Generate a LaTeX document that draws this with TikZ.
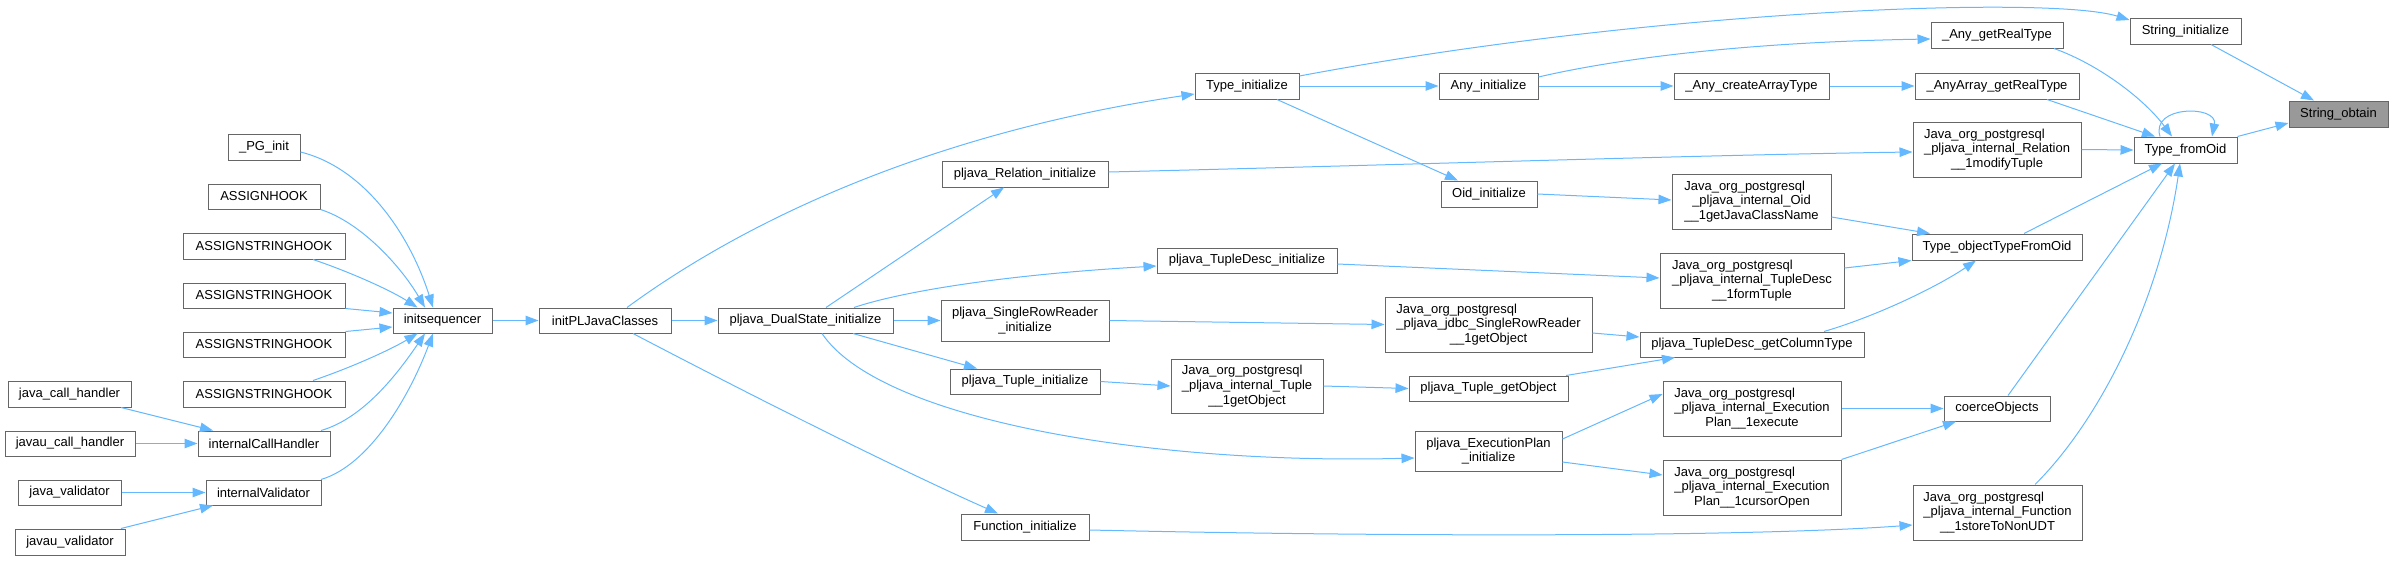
\documentclass[tikz,border=0pt]{standalone}
\usepackage{fontspec}
\setmainfont{Liberation Sans}
\usetikzlibrary{arrows.meta}
\definecolor{edgeblue}{HTML}{63B8FF}
\definecolor{boxgray}{HTML}{666666}
\definecolor{rootfill}{HTML}{999999}
\newlength\tlw
\newcommand\threel[3]{\settowidth\tlw{#2}\setbox0\hbox{#3}\ifdim\wd0>\tlw \tlw=\wd0\fi\setbox0\hbox{#1}\ifdim\wd0>\tlw \tlw=\wd0\fi\makebox[\tlw][l]{#1}\\#2\\#3}
\tikzset{
  box/.style={draw=boxgray, fill=white, line width=1pt, inner sep=0pt, align=center,
    font=\fontsize{13}{14.7}\selectfont},
  rootbox/.style={box, fill=rootfill},
  edge/.style={draw=edgeblue, line width=1pt, -{Triangle[length=13pt,width=9.5pt,fill=edgeblue]}}
}
\begin{document}
\begin{tikzpicture}[x=1pt,y=-1pt]
\useasboundingbox (0,0) rectangle (2393,560);
% column 1
\node[box, minimum width=123pt, minimum height=26pt] (jch) at (69.5,394) {java\_call\_handler};
\node[box, minimum width=130pt, minimum height=25pt] (jauch) at (70,443.5) {javau\_call\_handler};
\node[box, minimum width=103pt, minimum height=25pt] (jv) at (69.5,492.5) {java\_validator};
\node[box, minimum width=110pt, minimum height=26pt] (jauv) at (70,542) {javau\_validator};
% column 2
\node[box, minimum width=72pt, minimum height=26pt] (pg) at (264,147) {\_PG\_init};
\node[box, minimum width=112pt, minimum height=25pt] (ah) at (264,196.5) {ASSIGNHOOK};
\node[box, minimum width=162pt, minimum height=26pt] (ash1) at (264,246) {ASSIGNSTRINGHOOK};
\node[box, minimum width=162pt, minimum height=25pt] (ash2) at (264,295.5) {ASSIGNSTRINGHOOK};
\node[box, minimum width=162pt, minimum height=25pt] (ash3) at (264,344.5) {ASSIGNSTRINGHOOK};
\node[box, minimum width=162pt, minimum height=26pt] (ash4) at (264,394) {ASSIGNSTRINGHOOK};
\node[box, minimum width=132pt, minimum height=25pt] (ich) at (264,443.5) {internalCallHandler};
\node[box, minimum width=115pt, minimum height=25pt] (iv) at (263.5,492.5) {internalValidator};
% columns 3-5
\node[box, minimum width=99pt, minimum height=25pt] (is) at (442.5,320.5) {initsequencer};
\node[box, minimum width=132pt, minimum height=25pt] (ipl) at (605,320.5) {initPLJavaClasses};
\node[box, minimum width=175pt, minimum height=25pt] (dual) at (805.5,320.5) {pljava\_DualState\_initialize};
% column 6
\node[box, minimum width=166pt, minimum height=26pt] (relinit) at (1025,174) {pljava\_Relation\_initialize};
\node[box, minimum width=168pt, minimum height=41pt] (srrinit) at (1025,320.5) {pljava\_SingleRowReader\\\_initialize};
\node[box, minimum width=150pt, minimum height=25pt] (tupinit) at (1025,381.5) {pljava\_Tuple\_initialize};
\node[box, minimum width=128pt, minimum height=26pt] (finit) at (1025,527) {Function\_initialize};
% column 7
\node[box, minimum width=104pt, minimum height=26pt] (tinit) at (1247,86) {Type\_initialize};
\node[box, minimum width=180pt, minimum height=25pt] (tdinit) at (1247,260.5) {pljava\_TupleDesc\_initialize};
\node[box, minimum width=152pt, minimum height=54pt] (jtuple) at (1247,386) {\threel{Java\_org\_postgresql}{\_pljava\_internal\_Tuple}{\_\_1getObject}};
% column 8
\node[box, minimum width=99pt, minimum height=26pt] (anyinit) at (1488.5,86) {Any\_initialize};
\node[box, minimum width=96pt, minimum height=26pt] (oidinit) at (1489,194) {Oid\_initialize};
\node[box, minimum width=207pt, minimum height=55pt] (jsrr) at (1488.5,324.5) {\threel{Java\_org\_postgresql}{\_pljava\_jdbc\_SingleRowReader}{\_\_1getObject}};
\node[box, minimum width=159pt, minimum height=25pt] (tupget) at (1488.5,388.5) {pljava\_Tuple\_getObject};
\node[box, minimum width=147pt, minimum height=40pt] (epinit) at (1488.5,451) {pljava\_ExecutionPlan\\\_initialize};
% column 9
\node[box, minimum width=155pt, minimum height=26pt] (anycreate) at (1751.5,86) {\_Any\_createArrayType};
\node[box, minimum width=159pt, minimum height=55pt] (joid) at (1751.5,201.5) {\threel{Java\_org\_postgresql}{\_pljava\_internal\_Oid}{\_\_1getJavaClassName}};
\node[box, minimum width=184pt, minimum height=55pt] (jform) at (1752,280.5) {\threel{Java\_org\_postgresql}{\_pljava\_internal\_TupleDesc}{\_\_1formTuple}};
\node[box, minimum width=224pt, minimum height=25pt] (coltype) at (1752,344.5) {pljava\_TupleDesc\_getColumnType};
\node[box, minimum width=178pt, minimum height=55pt] (jexec) at (1752,408.5) {\threel{Java\_org\_postgresql}{\_pljava\_internal\_Execution}{Plan\_\_1execute}};
\node[box, minimum width=178pt, minimum height=55pt] (jcursor) at (1752,487.5) {\threel{Java\_org\_postgresql}{\_pljava\_internal\_Execution}{Plan\_\_1cursorOpen}};
% column 10
\node[box, minimum width=132pt, minimum height=26pt] (anyget) at (1997,35) {\_Any\_getRealType};
\node[box, minimum width=164pt, minimum height=26pt] (anyarr) at (1997,86) {\_AnyArray\_getRealType};
\node[box, minimum width=168pt, minimum height=55pt] (jrel) at (1997,149.5) {\threel{Java\_org\_postgresql}{\_pljava\_internal\_Relation}{\_\_1modifyTuple}};
\node[box, minimum width=170pt, minimum height=26pt] (tobj) at (1997,247) {Type\_objectTypeFromOid};
\node[box, minimum width=106pt, minimum height=25pt] (coerce) at (1997,408.5) {coerceObjects};
\node[box, minimum width=169pt, minimum height=55pt] (jstore) at (1997.5,512.5) {\threel{Java\_org\_postgresql}{\_pljava\_internal\_Function}{\_\_1storeToNonUDT}};
% column 11-12
\node[box, minimum width=111pt, minimum height=26pt] (sinit) at (2185.5,31) {String\_initialize};
\node[box, minimum width=103pt, minimum height=26pt] (tfo) at (2185.5,150) {Type\_fromOid};
\node[rootbox, minimum width=99pt, minimum height=26pt] (sobt) at (2338.5,114) {String\_obtain};

% edges into initsequencer
\draw[edge] ([yshift=-5pt]pg.east) .. controls (365,168) and (410,235) .. ([xshift=-9.5pt]is.north);
\draw[edge] (ah.south east) .. controls (360,222) and (400,265) .. ([xshift=-17.5pt]is.north);
\draw[edge] ([xshift=49pt]ash1.south) .. controls (350,272) and (390,290) .. ([xshift=-25pt]is.north);
\draw[edge] (ash2.south east) -- ([yshift=7.5pt]is.west);
\draw[edge] (ash3.north east) -- ([yshift=-6.5pt]is.west);
\draw[edge] ([xshift=49pt]ash4.north) .. controls (350,368) and (390,350) .. ([xshift=-25pt]is.south);
\draw[edge] ([xshift=57pt]ich.north) .. controls (365,418) and (400,370) .. ([xshift=-17.5pt]is.south);
\draw[edge] ([xshift=57.5pt]iv.north) .. controls (370,465) and (410,395) .. ([xshift=-9.5pt]is.south);
\draw[edge] ([xshift=51.5pt]jch.south) -- ([xshift=-51pt]ich.north);
\draw[edge] (jauch.east) -- (ich.west);
\draw[edge] (jv.east) -- (iv.west);
\draw[edge] ([xshift=51pt]jauv.north) -- ([xshift=-50.5pt]iv.south);
% main chain
\draw[edge] (is.east) -- (ipl.west);
\draw[edge] (ipl.east) -- (dual.west);
\draw[edge] ([xshift=22pt]ipl.north) .. controls (760,210) and (950,130) .. ([yshift=-8pt]tinit.west);
\draw[edge] ([xshift=28pt]ipl.south) .. controls (760,400) and (900,470) .. ([xshift=-27pt]finit.north);
\draw[edge] ([xshift=20.5pt]dual.north) -- ([xshift=-21pt]relinit.south);
\draw[edge] ([xshift=48.5pt]dual.north) .. controls (900,292) and (1000,275) .. ([yshift=-5.5pt]tdinit.west);
\draw[edge] (dual.east) -- (srrinit.west);
\draw[edge] ([xshift=47.5pt]dual.south) -- ([xshift=-48pt]tupinit.north);
\draw[edge] ([xshift=16.5pt]dual.south) .. controls (880,420) and (1150,465) .. ([yshift=-7pt]epinit.west);
\draw[edge] (srrinit.east) -- (jsrr.west);
\draw[edge] (tupinit.east) -- (jtuple.west);
\draw[edge] ([yshift=-3pt]finit.east) .. controls (1400,537) and (1750,537) .. ([yshift=-12.5pt]jstore.west);
% Type_initialize
\draw[edge] ([yshift=10pt]tinit.east) .. controls (1650,10) and (2050,-5) .. ([yshift=11pt]sinit.west);
\draw[edge] (tinit.east) -- (anyinit.west);
\draw[edge] ([xshift=30pt]tinit.south) -- ([xshift=-31pt]oidinit.north);
\draw[edge] ([yshift=9pt]anyinit.east) .. controls (1620,58) and (1750,42) .. ([yshift=-4pt]anyget.west);
\draw[edge] (anyinit.east) -- (anycreate.west);
\draw[edge] (anycreate.east) -- (anyarr.west);
\draw[edge] (oidinit.east) -- ([yshift=1.5pt]joid.west);
\draw[edge] ([yshift=2pt]relinit.east) .. controls (1400,165) and (1700,155) .. ([yshift=-2.5pt]jrel.west);
\draw[edge] ([yshift=-3.5pt]tdinit.east) -- ([yshift=2.5pt]jform.west);
\draw[edge] ([yshift=-8.5pt]jsrr.east) -- ([yshift=7.5pt]coltype.west);
\draw[edge] (jtuple.east) -- (tupget.west);
\draw[edge] ([xshift=77.5pt]tupget.north) -- ([xshift=-77pt]coltype.south);
\draw[edge] ([yshift=12pt]epinit.east) -- ([yshift=14.5pt]jexec.west);
\draw[edge] ([yshift=-11pt]epinit.east) -- ([yshift=12.5pt]jcursor.west);
\draw[edge] (jexec.east) -- (coerce.west);
\draw[edge] (jcursor.north east) -- ([xshift=-41pt]coerce.south);
\draw[edge] ([yshift=-15.5pt]joid.east) -- ([xshift=-67pt]tobj.north);
\draw[edge] ([yshift=12.5pt]jform.east) -- (tobj.south west);
\draw[edge] ([xshift=72pt]coltype.north) .. controls (1880,315) and (1940,285) .. ([xshift=-21pt]tobj.south);
% into Type_fromOid
\draw[edge] ([xshift=27pt]tobj.north) -- ([xshift=-23.5pt]tfo.south);
\draw[edge] ([xshift=11pt]coerce.north) -- ([xshift=-10.5pt]tfo.south);
\draw[edge] ([xshift=37.5pt]jstore.north) .. controls (2100,420) and (2160,300) .. ([xshift=-5.5pt]tfo.south);
\draw[edge] ([xshift=57pt]anyget.south) .. controls (2100,65) and (2145,100) .. ([xshift=-13.5pt]tfo.north);
\draw[edge] ([xshift=50pt]anyarr.south) -- ([xshift=-30.5pt]tfo.north);
\draw[edge] (jrel.east) -- (tfo.west);
\draw[edge] ([xshift=-25.5pt]tfo.north) .. controls (2150,105) and (2218,105) .. ([xshift=26.5pt]tfo.north);
% into String_obtain
\draw[edge] (tfo.north east) -- ([yshift=-9pt]sobt.west);
\draw[edge] ([xshift=25.5pt]sinit.south) -- ([xshift=-24.5pt]sobt.north);
\end{tikzpicture}
\end{document}
